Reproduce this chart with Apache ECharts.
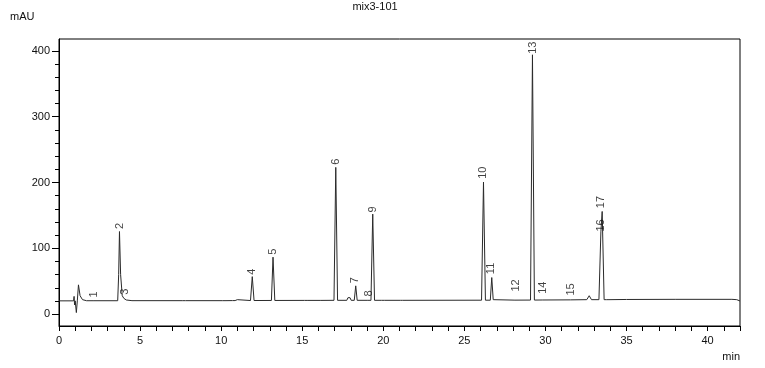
<!DOCTYPE html>
<html>
<head>
<meta charset="utf-8">
<script src="https://cdn.jsdelivr.net/npm/echarts@6/dist/echarts.min.js"></script>
<style>html,body{margin:0;padding:0;background:#fff}#c{width:765px;height:368px}</style>
</head>
<body>
<div id="c"></div>
<script>
// Chromatogram trace (time in min, signal in mAU)
const traceTime = [0, 0.9, 0.93, 0.96, 1.0, 1.07, 1.13, 1.2, 1.3, 1.45, 1.7, 2.1, 2.16, 2.22,
  3.62, 3.68, 3.73, 3.8, 3.9, 4.0, 4.06, 4.15, 4.5, 7.6, 7.7, 7.8, 10.1, 10.2, 10.3, 10.7, 10.78, 10.86, 11.0, 11.1,
  11.81, 11.92, 12.03, 13.1, 13.2, 13.31, 15.15, 15.22, 15.3, 16.15, 16.2, 16.27,
  16.96, 17.07, 17.18, 17.75, 17.82, 17.88, 17.95, 18.02, 18.21, 18.3, 18.39,
  19.05, 19.1, 19.16, 19.24, 19.35, 19.46, 19.9, 19.98, 20.06, 21.05, 21.12, 21.2,
  26.06, 26.18, 26.3, 26.6, 26.69, 26.78, 26.9, 28.12, 28.18, 28.24,
  29.08, 29.2, 29.32, 29.8, 29.86, 29.92, 31.55, 31.6, 31.66, 32.55, 32.7, 32.84,
  33.3, 33.42, 33.5, 33.62, 33.78, 33.84, 33.92, 35, 38, 41.5, 41.8, 42];
const traceSignal = [20.2, 20.2, 27, 14, 20.2, 2.4, 20.2, 44.5, 28, 22, 20.4, 20.4, 23, 20.4,
  20.4, 60, 125.5, 60, 28, 24, 25, 21.5, 20.5, 20.5, 21.5, 20.5, 20.5, 22.5, 20.5, 20.6, 23.5, 20.6, 22, 20.6,
  20.7, 57, 20.7, 20.8, 86.6, 20.8, 20.9, 22.5, 20.9, 20.9, 23, 20.9,
  21, 223, 21, 21, 25, 22, 25, 21, 21, 43, 21,
  21, 23, 21, 21, 152, 21, 21, 23, 21, 21, 23, 21,
  21.2, 200.6, 21.2, 21.2, 55.6, 22, 21.2, 21.3, 23.5, 21.3,
  21.4, 394, 21.4, 21.5, 23.5, 21.5, 21.7, 22.8, 21.7, 22, 28, 22,
  22, 125, 156, 22, 22, 24, 22, 22.3, 22.5, 22.5, 22, 20];

// Peak annotations
const peakNames = ['1', '2', '3', '4', '5', '6', '7', '8', '9', '10', '11', '12', '13', '14', '15', '16', '17'];
const peakLabelTime = [2.17, 3.74, 4.06, 11.93, 13.22, 17.09, 18.28, 19.09, 19.34, 26.16, 26.67, 28.18, 29.22, 29.85, 31.59, 33.45, 33.45];
const peakLabelLevel = [25.2, 129.2, 29.3, 59.7, 90.1, 226.9, 47.1, 26.7, 154.4, 205.6, 60.8, 34.3, 395.6, 30.9, 28.3, 125.5, 161];

// Axis ticks
const xLabelValues = [0, 5, 10, 15, 20, 25, 30, 35, 40];
const xTickValues = Array.from({length: 43}, (_, i) => i);
const yLabelValues = [0, 100, 200, 300, 400];
const yMinorValues = [0, 20, 40, 60, 80, 100, 120, 140, 160, 180, 200, 220, 240, 260, 280, 300, 320, 340, 360, 380, 400];

const FONT = 'Liberation Sans';
const chart = echarts.init(document.getElementById('c'), null, {renderer: 'canvas'});
const traceData = traceTime.map((t, i) => [t, traceSignal[i]]);
const labelData = peakLabelTime.map((t, i) => ({value: [t, peakLabelLevel[i]], name: peakNames[i]}));

chart.setOption({
  animation: false,
  backgroundColor: '#fff',
  title: {
    text: 'mix3-101', left: 375, top: 0, padding: [1, 0, 0, 0], textAlign: 'center',
    textStyle: {fontFamily: FONT, fontSize: 11, fontWeight: 'normal', color: '#111'}
  },
  graphic: [{
    type: 'text', left: 10, top: 11,
    style: {text: 'mAU', fontFamily: FONT, fontSize: 11, fill: '#111'}
  }],
  grid: {left: 59, right: 25, top: 39, bottom: 42, show: true, borderColor: '#000', borderWidth: 1, backgroundColor: 'transparent'},
  xAxis: [{
    type: 'value', min: 0, max: 42, interval: 5,
    name: 'min', nameLocation: 'end', nameGap: 0,
    nameTextStyle: {fontFamily: FONT, fontSize: 11, color: '#111', align: 'right', verticalAlign: 'top', padding: [25, 0, 0, 0]},
    axisLine: {show: true, onZero: false, lineStyle: {color: '#000', width: 1}},
    axisTick: {show: true, length: 5, customValues: xTickValues, lineStyle: {color: '#000'}},
    axisLabel: {customValues: xLabelValues, margin: 9, fontFamily: FONT, fontSize: 11, color: '#111'},
    splitLine: {show: false}
  }],
  yAxis: [{
    type: 'value', min: -18, max: 418,
    axisLine: {show: true, onZero: false, lineStyle: {color: '#000', width: 1}},
    axisTick: {show: true, length: 7, customValues: yLabelValues, lineStyle: {color: '#000'}},
    axisLabel: {customValues: yLabelValues, margin: 9, fontFamily: FONT, fontSize: 11, color: '#111'},
    splitLine: {show: false}
  }, {
    type: 'value', min: -18, max: 418, position: 'left',
    axisLine: {show: false},
    axisTick: {show: true, length: 4, customValues: yMinorValues, lineStyle: {color: '#000'}},
    axisLabel: {show: false},
    splitLine: {show: false}
  }],
  series: [{
    type: 'line', data: traceData, showSymbol: false, symbol: 'none',
    lineStyle: {color: '#2a2a2a', width: 1}, z: 3
  }, {
    type: 'scatter', data: labelData, symbolSize: 0,
    label: {
      show: true, position: 'top', distance: 0, rotate: 90, align: 'left', verticalAlign: 'middle',
      formatter: p => p.name, fontFamily: FONT, fontSize: 11, color: '#111'
    }, z: 4
  }]
});
</script>
</body>
</html>
